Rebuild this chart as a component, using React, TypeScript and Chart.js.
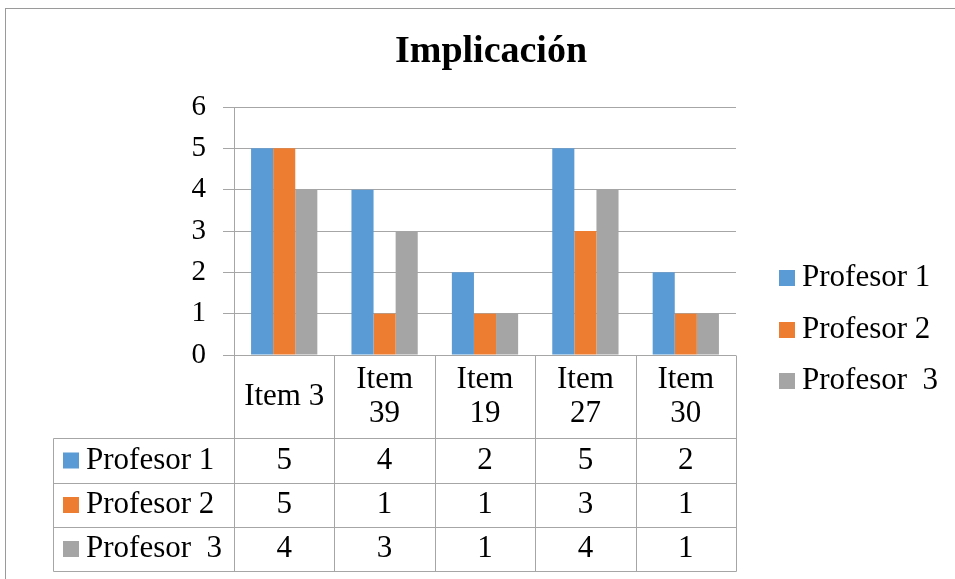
import React, { useEffect, useRef } from "react";
import { Chart, registerables } from "chart.js";

Chart.register(...registerables);

const chartTitle = "Implicación";
const categories = ["Item 3", "Item 39", "Item 19", "Item 27", "Item 30"];
const headerLabels = [["Item 3"], ["Item", "39"], ["Item", "19"], ["Item", "27"], ["Item", "30"]];
const seriesNames = ["Profesor 1", "Profesor 2", "Profesor  3"];
const profesor1 = [5, 4, 2, 5, 2];
const profesor2 = [5, 1, 1, 3, 1];
const profesor3 = [4, 3, 1, 4, 1];
const seriesColors = ["#5B9BD5", "#ED7D31", "#A5A5A5"];
const yMin = 0;
const yMax = 6;
const yStep = 1;

const W = 955;
const H = 579;
const FONT = "'Liberation Serif', 'Times New Roman', serif";
const LINE = "#A6A6A6";
const TEXT_SIZE = 31;

const tablePlugin = {
  id: "tableAndDecor",
  afterDraw(chart: any) {
    const ctx = chart.ctx as CanvasRenderingContext2D;
    const area = chart.chartArea;
    const xs = chart.scales.x;
    const n = categories.length;
    const seriesData = [profesor1, profesor2, profesor3];

    ctx.save();
    // outer frame
    ctx.strokeStyle = "#9A9A9A";
    ctx.lineWidth = 1;
    ctx.strokeRect(5.5, 8.5, W + 20, H + 20);

    // title
    ctx.fillStyle = "#000";
    ctx.font = `bold 38px ${FONT}`;
    ctx.textAlign = "center";
    ctx.textBaseline = "middle";
    ctx.fillText(chartTitle, 491, 52);

    // right legend
    const legendY = [278, 330, 381];
    ctx.font = `${TEXT_SIZE}px ${FONT}`;
    ctx.textAlign = "left";
    seriesNames.forEach((name, i) => {
      ctx.fillStyle = seriesColors[i];
      ctx.fillRect(779, legendY[i] - 8, 16, 16);
      ctx.fillStyle = "#000";
      ctx.fillText(name, 802, legendY[i]);
    });

    // data table geometry
    const bounds: number[] = [];
    for (let i = 0; i <= n; i++) {
      if (i === 0) bounds.push(area.left);
      else if (i === n) bounds.push(area.right);
      else bounds.push((xs.getPixelForValue(i - 1) + xs.getPixelForValue(i)) / 2);
    }
    const headerTop = area.bottom;
    const rowEdges = [headerTop, headerTop + 83, headerTop + 128, headerTop + 172, headerTop + 216];
    const leftX = 53;
    const px = (v: number) => Math.round(v) + 0.5;

    ctx.strokeStyle = LINE;
    ctx.lineWidth = 1;
    ctx.beginPath();
    bounds.forEach((b) => {
      ctx.moveTo(px(b), px(headerTop));
      ctx.lineTo(px(b), px(rowEdges[4]));
    });
    ctx.moveTo(px(leftX), px(rowEdges[1]));
    ctx.lineTo(px(leftX), px(rowEdges[4]));
    for (let r = 1; r <= 4; r++) {
      ctx.moveTo(px(leftX), px(rowEdges[r]));
      ctx.lineTo(px(area.right), px(rowEdges[r]));
    }
    ctx.stroke();

    // header text
    ctx.fillStyle = "#000";
    ctx.font = `${TEXT_SIZE}px ${FONT}`;
    ctx.textAlign = "center";
    ctx.textBaseline = "middle";
    headerLabels.forEach((lines, i) => {
      const cx = xs.getPixelForValue(i);
      const mid = (rowEdges[0] + rowEdges[1]) / 2;
      if (lines.length === 1) {
        ctx.fillText(lines[0], cx, mid);
      } else {
        ctx.fillText(lines[0], cx, mid - 17);
        ctx.fillText(lines[1], cx, mid + 17);
      }
    });

    // rows
    seriesNames.forEach((name, r) => {
      const cy = (rowEdges[r + 1] + rowEdges[r + 2]) / 2;
      ctx.fillStyle = seriesColors[r];
      ctx.fillRect(63, cy - 8, 16, 16);
      ctx.fillStyle = "#000";
      ctx.textAlign = "left";
      ctx.fillText(name, 86, cy);
      ctx.textAlign = "center";
      seriesData[r].forEach((v, i) => {
        ctx.fillText(String(v), xs.getPixelForValue(i), cy);
      });
    });
    ctx.restore();
  },
};

export default function App() {
  const ref = useRef<HTMLCanvasElement | null>(null);
  useEffect(() => {
    if (!ref.current) return;
    const chart = new Chart(ref.current, {
      type: "bar",
      data: {
        labels: categories,
        datasets: [
          { label: seriesNames[0], data: profesor1, backgroundColor: seriesColors[0] },
          { label: seriesNames[1], data: profesor2, backgroundColor: seriesColors[1] },
          { label: seriesNames[2], data: profesor3, backgroundColor: seriesColors[2] },
        ],
      },
      options: {
        responsive: false,
        animation: false,
        devicePixelRatio: 1,
        datasets: { bar: { barPercentage: 1, categoryPercentage: 0.66, borderWidth: 0 } },
        layout: { padding: { left: 0, top: 107, right: W - 736, bottom: H - 355 } },
        plugins: { legend: { display: false }, title: { display: false }, tooltip: { enabled: false } },
        scales: {
          x: {
            ticks: { display: false },
            grid: { display: false, drawTicks: false },
            border: { display: false },
            afterFit: (s: any) => {
              s.height = 0;
            },
          },
          y: {
            min: yMin,
            max: yMax,
            ticks: {
              stepSize: yStep,
              color: "#000",
              padding: 17,
              font: { family: FONT, size: 29 },
            },
            grid: { color: LINE, tickLength: 11, lineWidth: 1 },
            border: { display: true, color: LINE },
            afterFit: (s: any) => {
              s.width = 234;
            },
          },
        },
      },
      plugins: [tablePlugin],
    } as any);
    return () => chart.destroy();
  }, []);
  return (
    <div style={{ position: "fixed", left: 0, top: 0, width: W, height: H, background: "#fff" }}>
      <canvas ref={ref} width={W} height={H} style={{ display: "block", width: W, height: H }} />
    </div>
  );
}
